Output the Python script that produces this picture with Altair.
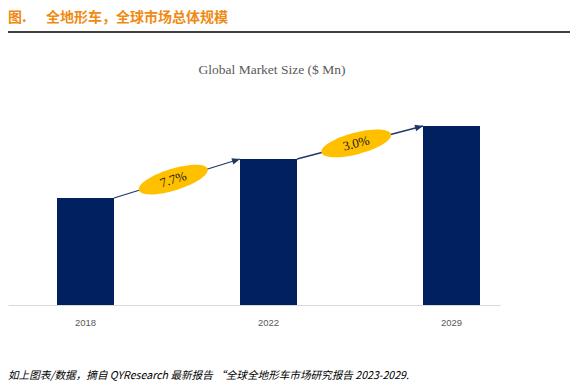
import math
import altair as alt
import pandas as pd

# ---- data (no value axis in the source: relative bar heights) ----
years = ["2018", "2022", "2029"]
sizes = [107, 146, 179]
cagr_labels = ["7.7%", "3.0%"]

header_tag = "图."
header_title = "全地形车，全球市场总体规模"
chart_title = "Global Market Size ($ Mn)"
footer_text = "如上图表/数据，摘自 QYResearch 最新报告 “全球全地形车市场研究报告 2023-2029."

# ---- layout / style constants ----
W = 562
PLOT_H = 297
PAD_B = 78
STEP = 183.0
BW = 57.0
GAP = STEP - BW
AXIS_LEN = 492.0
P_IN = 1 - BW / STEP
P_OUT = (AXIS_LEN / STEP - 3 + P_IN) / 2
ALIGN = 49.0 / (AXIS_LEN - STEP * (3 - P_IN))
Y_MAX = 200
PX_PER_UNIT = 200.0 / Y_MAX
T_LABEL = 0.47

NAVY = "#002060"
ARROW = "#1F3864"
GOLD = "#FFC000"
ORANGE = "#EF8A12"
GRAY = "#595959"

bars = pd.DataFrame({"year": years, "size": sizes})

seg_rows = []
for i, lab in enumerate(cagr_labels):
    v1, v2 = sizes[i], sizes[i + 1]
    ang = math.degrees(math.atan2((v2 - v1) * PX_PER_UNIT, GAP))
    seg_rows.append({
        "from": years[i], "to": years[i + 1], "v1": v1, "v2": v2,
        "label": lab, "angle": (360 - ang) % 360,
        "ymid": v1 + T_LABEL * (v2 - v1),
    })
segs = pd.DataFrame(seg_rows)

xs = alt.Scale(type="band", domain=years, range=[0, AXIS_LEN],
               paddingInner=P_IN, paddingOuter=P_OUT, align=ALIGN)
ys = alt.Scale(domain=[0, Y_MAX], range=[PLOT_H, PLOT_H - Y_MAX * PX_PER_UNIT], nice=False, zero=True)
xaxis = alt.Axis(title=None, domain=True, domainColor="#D9D9D9", domainWidth=1,
                 ticks=False, grid=False, labelFont="Liberation Sans", labelFontSize=9.5,
                 labelColor=GRAY, labelPadding=12, labelAngle=0)

bar_layer = alt.Chart(bars).mark_bar(color=NAVY).encode(
    x=alt.X("year:N", scale=xs, axis=xaxis, sort=years),
    y=alt.Y("size:Q", scale=ys, axis=None),
)

arrow_line = alt.Chart(segs).mark_rule(color=ARROW, strokeWidth=1.3).encode(
    x=alt.X("from:N", scale=xs, axis=xaxis, sort=years, bandPosition=1),
    x2=alt.X2("to", bandPosition=0),
    y=alt.Y("v1:Q", scale=ys, axis=None),
    y2="v2",
)

arrow_head = alt.Chart(segs).mark_point(
    shape="M0,0L-1,-0.42L-1,0.42Z", size=256, filled=True, color=ARROW, opacity=1, strokeWidth=0
).encode(
    x=alt.X("to:N", scale=xs, axis=xaxis, sort=years, bandPosition=0),
    y=alt.Y("v2:Q", scale=ys, axis=None),
    angle=alt.Angle("angle:Q", scale=None),
)

ellipse_path = ("M-1,0C-1,-0.1657,-0.5523,-0.3,0,-0.3C0.5523,-0.3,1,-0.1657,1,0"
                "C1,0.1657,0.5523,0.3,0,0.3C-0.5523,0.3,-1,0.1657,-1,0Z")
ellipses = alt.Chart(segs).mark_point(
    shape=ellipse_path, size=5184, filled=True, color=GOLD, opacity=1, strokeWidth=0,
    xOffset=T_LABEL * GAP,
).encode(
    x=alt.X("from:N", scale=xs, axis=xaxis, sort=years, bandPosition=1),
    y=alt.Y("ymid:Q", scale=ys, axis=None),
    angle=alt.Angle("angle:Q", scale=None),
)

ell_text = alt.Chart(segs).mark_text(
    font="Liberation Serif", fontSize=13, color="#1A1A1A", baseline="middle", align="center",
    xOffset=T_LABEL * GAP,
).encode(
    x=alt.X("from:N", scale=xs, axis=xaxis, sort=years, bandPosition=1),
    y=alt.Y("ymid:Q", scale=ys, axis=None),
    angle=alt.Angle("angle:Q", scale=None),
    text="label:N",
)

def text_layer(txt, x, y, **kw):
    return alt.Chart(pd.DataFrame({"t": [txt]})).mark_text(baseline="middle", **kw).encode(
        x=alt.value(x), y=alt.value(y), text="t:N")

hdr1 = text_layer(header_tag, 0, 10, align="left", font="Noto Sans CJK SC", fontSize=14,
                  fontWeight="bold", color=ORANGE)
hdr2 = text_layer(header_title, 38, 10, align="left", font="Noto Sans CJK SC", fontSize=14,
                  fontWeight="bold", color=ORANGE)
hdr_line = alt.Chart(pd.DataFrame({"a": [0]})).mark_rule(color="black", strokeWidth=1.5).encode(
    x=alt.value(0), x2=alt.value(W), y=alt.value(24))
title = text_layer(chart_title, 264, 62, align="center", font="Liberation Serif", fontSize=13.5,
                   color=GRAY)
footer = text_layer(footer_text, 0, 368, align="left", font="Noto Sans CJK SC", fontSize=10.6,
                    fontStyle="italic", color="black")

chart = alt.layer(
    bar_layer, arrow_line, arrow_head, ellipses, ell_text,
    hdr1, hdr2, hdr_line, title, footer,
).properties(
    width=W, height=PLOT_H,
    padding={"left": 0, "top": 0, "right": 0, "bottom": PAD_B},
    autosize=alt.AutoSizeParams(type="none"),
    background="white",
).configure_view(stroke=None)

chart.save("out.html", embed_options={"renderer": "svg", "actions": False})
